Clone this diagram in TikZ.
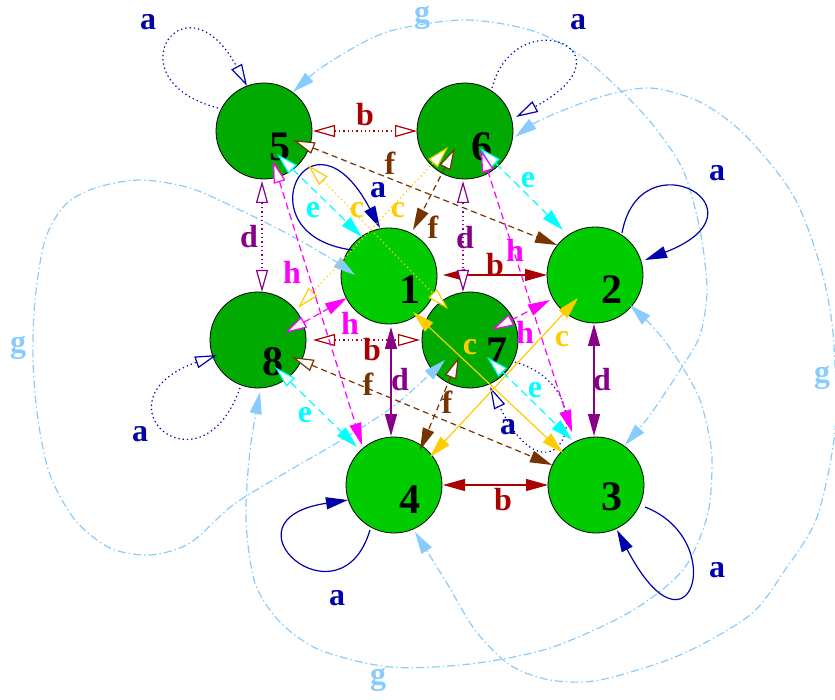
\documentclass[tikz,border=0pt]{standalone}
\usepackage{fontspec}
\setmainfont{Liberation Serif}
\usetikzlibrary{arrows.meta,calc}
\definecolor{fgreen}{HTML}{00CC00}
\definecolor{bgreen}{HTML}{00AA00}
\definecolor{ca}{HTML}{0000AA}
\definecolor{cb}{HTML}{AA0000}
\definecolor{cc}{HTML}{FFCC00}
\definecolor{cd}{HTML}{880088}
\definecolor{ce}{HTML}{00FFFF}
\definecolor{cf}{HTML}{773300}
\definecolor{cg}{HTML}{88CCFF}
\definecolor{ch}{HTML}{FF00FF}
\tikzset{
  ftip/.tip={Triangle[length=22pt,width=12pt]},
  otip/.tip={Triangle[length=22pt,width=12pt,fill=white]},
}
\begin{document}
\begin{tikzpicture}[x=1pt,y=-1pt,
  front/.style={circle,draw=black,line width=0.8pt,fill=fgreen,minimum size=96pt,inner sep=0pt},
  back/.style={front,fill=bgreen},
  num/.style={font=\bfseries\fontsize{42}{42}\selectfont,inner sep=0pt},
  lbl/.style={font=\bfseries\fontsize{32}{32}\selectfont,inner sep=0pt},
  edge/.style={line width=1.2pt},
  dots/.style={dash pattern=on 1.3pt off 3pt},
  ea/.style={edge,draw=ca},
  eb/.style={edge,draw=cb},
  ec/.style={edge,draw=cc},
  ed/.style={edge,draw=cd},
  ee/.style={edge,draw=ce,dash pattern=on 8pt off 5pt},
  ef/.style={edge,draw=cf,dash pattern=on 6pt off 4pt},
  eg/.style={edge,draw=cg,dash pattern=on 8pt off 3pt on 1.5pt off 3pt},
  eh/.style={edge,draw=ch,dash pattern=on 7pt off 4pt},
]
\useasboundingbox (0,0) rectangle (835,700);

% nodes
\node[back]  (n5) at (264,131) {};
\node[back]  (n6) at (465,131) {};
\node[front] (n1) at (389,276) {};
\node[front] (n2) at (595,275) {};
\node[back]  (n8) at (258,340) {};
\node[back]  (n7) at (470,340) {};
\node[front] (n4) at (394,485) {};
\node[front] (n3) at (596,485) {};

\node[num] (t5) at ($(n5)+(16,16)$) {5};
\node[num] (t6) at ($(n6)+(17,16)$) {6};
\node[num] (t1) at ($(n1)+(21,14)$) {1};
\node[num] (t2) at ($(n2)+(17,15)$) {2};
\node[num] (t8) at ($(n8)+(15,22)$) {8};
\node[num] (t7) at ($(n7)+(27,12)$) {7};
\node[num] (t4) at ($(n4)+(16,15)$) {4};
\node[num] (t3) at ($(n3)+(16,12)$) {3};

% g curves
\coordinate (g5) at ($(n5)+(29,-39)$);
\coordinate (g3) at ($(n3)+(29,-40)$);
\coordinate (g2) at ($(n2)+(35,30)$);
\coordinate (g8) at ($(n8)+(2,52)$);
\coordinate (g6) at ($(n6)+(50,6)$);
\coordinate (g4) at ($(n4)+(21,47)$);
\coordinate (g1) at ($(n1)+(-34,-1)$);
\coordinate (g7) at ($(n7)+(-25,20)$);
\draw[eg,ftip-ftip] plot[smooth] coordinates {(g5) (330,62) (387,32) (463,20) (530,30) (580,55) (620,90) (653,125) (683,170) (700,230) (707,290) (700,335) (682,367) (650,415) (g3)};
\draw[eg,ftip-ftip] plot[smooth] coordinates {(g2) (660,335) (683,368) (700,400) (710,440) (712,470) (707,517) (683,570) (630,612) (550,648) (470,664) (390,667) (320,650) (280,622) (255,583) (246,520) (250,450) (g8)};
\draw[eg,ftip-ftip] plot[smooth] coordinates {(g6) (545,118) (600,97) (650,88) (700,102) (745,135) (793,195) (820,265) (833,333) (835,430) (817,517) (785,570) (750,615) (680,655) (600,680) (550,680) (510,665) (475,630) (445,580) (g4)};
\draw[eg,ftip-ftip] plot[smooth] coordinates {(g1) (330,258) (290,235) (240,210) (190,188) (140,180) (95,188) (65,205) (45,240) (35,300) (33,360) (38,420) (50,475) (75,520) (110,548) (150,555) (190,543) (233,505) (290,470) (340,441) (395,405) (g7)};

% a loops
\draw[ea,-ftip] ($(n1)+(-37,-26)$) .. controls ($(n1)+(-149,-41)$) and ($(n1)+(-79,-181)$) .. ($(n1)+(-9,-48)$);
\draw[ea,-ftip] ($(n2)+(27,-42)$) .. controls ($(n2)+(45,-140)$) and ($(n2)+(180,-65)$) .. ($(n2)+(50,-15)$);
\draw[ea,-ftip] ($(n3)+(49,22)$) .. controls ($(n3)+(134,55)$) and ($(n3)+(94,185)$) .. ($(n3)+(21,45)$);
\draw[ea,-ftip] ($(n4)+(-24,45)$) .. controls ($(n4)+(-54,145)$) and ($(n4)+(-179,35)$) .. ($(n4)+(-46,15)$);
\draw[ea,dots,-otip] ($(n5)+(-46,-23)$) .. controls ($(n5)+(-154,-51)$) and ($(n5)+(-79,-161)$) .. ($(n5)+(-17,-45)$);
\draw[ea,dots,-otip] ($(n6)+(27,-43)$) .. controls ($(n6)+(50,-131)$) and ($(n6)+(175,-81)$) .. ($(n6)+(51,-14)$);
\draw[ea,dots,-otip] ($(n7)+(45,22)$) .. controls ($(n7)+(140,50)$) and ($(n7)+(85,180)$) .. ($(n7)+(20,47)$);
\draw[ea,dots,-otip] ($(n8)+(-18,48)$) .. controls ($(n8)+(-58,160)$) and ($(n8)+(-168,60)$) .. ($(n8)+(-41,15)$);

% b
\draw[eb,ftip-ftip] ($(n1)+(54,-1)$) -- ($(n2)+(-48,0)$);
\draw[eb,ftip-ftip] ($(n4)+(49,0)$) -- ($(n3)+(-48,0)$);
\draw[eb,dots,otip-otip] ($(n5)+(49,0)$) -- ($(n6)+(-48,0)$);
\draw[eb,dots,otip-otip] ($(n8)+(55,0)$) -- ($(n7)+(-50,0)$);
% c
\draw[ec,ftip-ftip] ($(n1)+(24,36)$) -- ($(n3)+(-33,-32)$);
\draw[ec,ftip-ftip] ($(n2)+(-17,23)$) -- ($(n4)+(36,-28)$);
\draw[ec,dots,otip-otip] ($(n5)+(44,34)$) -- ($(n7)+(-22,-31)$);
\draw[ec,dots,otip-otip] ($(n6)+(-17,16)$) -- ($(n8)+(40,-32)$);
% d
\draw[ed,ftip-ftip] ($(n1)+(2,51)$) -- ($(n4)+(-3,-49)$);
\draw[ed,ftip-ftip] ($(n2)+(-1,49)$) -- ($(n3)+(-2,-49)$);
\draw[ed,dots,otip-otip] ($(n5)+(-2,50)$) -- ($(n8)+(4,-48)$);
\draw[ed,dots,otip-otip] ($(n6)+(-2,50)$) -- ($(n7)+(-7,-48)$);
% e
\draw[ee,otip-ftip] ($(n5)+(13,23)$) -- ($(n1)+(-27,-39)$);
\draw[ee,otip-ftip] ($(n6)+(15,17)$) -- ($(n2)+(-32,-45)$);
\draw[ee,otip-ftip] ($(n8)+(17,27)$) -- ($(n4)+(-37,-38)$);
\draw[ee,otip-ftip] ($(n7)+(17,17)$) -- ($(n3)+(-24,-45)$);
% f
\draw[ef,otip-ftip] ($(n5)+(29,9)$) -- ($(n2)+(-38,-30)$);
\draw[ef,otip-ftip] ($(n6)+(-10,17)$) -- ($(n1)+(24,-46)$);
\draw[ef,otip-ftip] ($(n8)+(34,17)$) -- ($(n3)+(-44,-20)$);
\draw[ef,otip-ftip] ($(n7)+(-11,17)$) -- ($(n4)+(26,-35)$);
% h
\draw[eh,otip-ftip] ($(n5)+(9,30)$) -- ($(n4)+(-32,-40)$);
\draw[eh,otip-ftip] ($(n6)+(16,19)$) -- ($(n3)+(-24,-53)$);
\draw[eh,otip-ftip] ($(n8)+(27,-7)$) -- ($(n1)+(-42,22)$);
\draw[eh,otip-ftip] ($(n7)+(22,-10)$) -- ($(n2)+(-45,25)$);

% labels
\node[lbl,text=ca] (la5) at (148,22) {a};
\node[lbl,text=ca] (la6) at (578,22) {a};
\node[lbl,text=ca] (la1) at (378,190) {a};
\node[lbl,text=ca] (la2) at (717,173) {a};
\node[lbl,text=ca] (la3) at (717,570) {a};
\node[lbl,text=ca] (la4) at (337,598) {a};
\node[lbl,text=ca] (la7) at (508,427) {a};
\node[lbl,text=ca] (la8) at (140,434) {a};
\node[lbl,text=cb] (lb56) at (365,115) {b};
\node[lbl,text=cb] (lb12) at (495,265) {b};
\node[lbl,text=cb] (lb87) at (372,350) {b};
\node[lbl,text=cb] (lb43) at (503,500) {b};
\node[lbl,text=cc] (lc57) at (357,210) {c};
\node[lbl,text=cc] (lc68) at (398,210) {c};
\node[lbl,text=cc] (lc13) at (470,347) {c};
\node[lbl,text=cc] (lc24) at (562,339) {c};
\node[lbl,text=cd] (ld58) at (249,237) {d};
\node[lbl,text=cd] (ld67) at (465,238) {d};
\node[lbl,text=cd] (ld14) at (400,380) {d};
\node[lbl,text=cd] (ld23) at (602,380) {d};
\node[lbl,text=ce] (le51) at (313,210) {e};
\node[lbl,text=ce] (le62) at (528,180) {e};
\node[lbl,text=ce] (le84) at (305,415) {e};
\node[lbl,text=ce] (le73) at (535,390) {e};
\node[lbl,text=cf] (lf52) at (390,163) {f};
\node[lbl,text=cf] (lf61) at (433,227) {f};
\node[lbl,text=cf] (lf83) at (368,384) {f};
\node[lbl,text=cf] (lf74) at (447,402) {f};
\node[lbl,text=ch] (lh54) at (292,272) {h};
\node[lbl,text=ch] (lh63) at (515,250) {h};
\node[lbl,text=ch] (lh81) at (350,323) {h};
\node[lbl,text=ch] (lh72) at (525,332) {h};
\node[lbl,text=cg] (lg1) at (422,18) {g};
\node[lbl,text=cg] (lg2) at (18,348) {g};
\node[lbl,text=cg] (lg3) at (822,378) {g};
\node[lbl,text=cg] (lg4) at (378,680) {g};
\end{tikzpicture}
\end{document}
